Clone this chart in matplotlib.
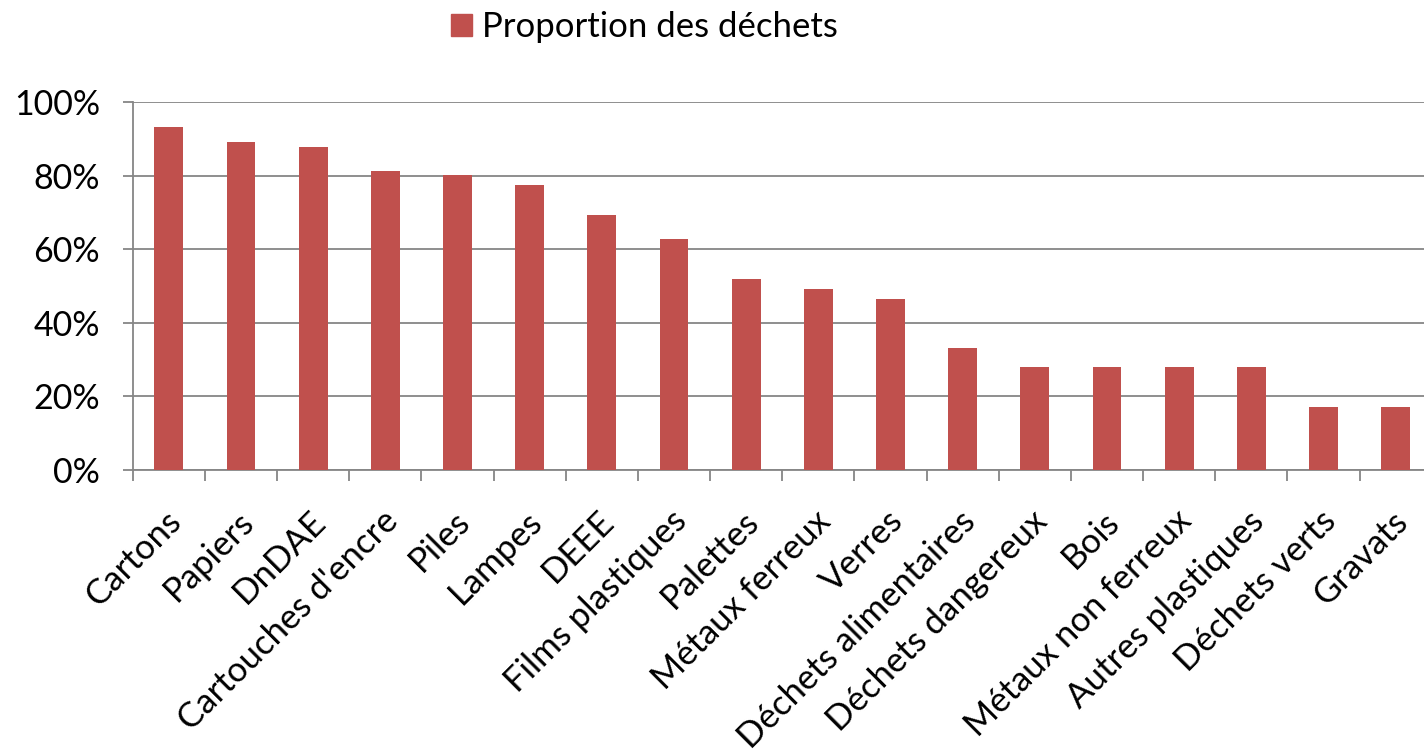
import matplotlib
matplotlib.use("Agg")
import matplotlib.pyplot as plt
import matplotlib.transforms as mtransforms
from matplotlib.ticker import FuncFormatter, FixedLocator, NullFormatter
from matplotlib.patches import Patch

categories = ["Cartons", "Papiers", "DnDAE", "Cartouches d'encre", "Piles", "Lampes",
              "DEEE", "Films plastiques", "Palettes", "Métaux ferreux", "Verres",
              "Déchets alimentaires", "Déchets dangereux", "Bois", "Métaux non ferreux",
              "Autres plastiques", "Déchets verts", "Gravats"]
values = [0.932, 0.892, 0.879, 0.812, 0.801, 0.774, 0.694, 0.627, 0.520, 0.493, 0.466,
          0.332, 0.279, 0.279, 0.279, 0.279, 0.172, 0.172]
series_name = "Proportion des déchets"
yticks = [0, 0.2, 0.4, 0.6, 0.8, 1.0]

bar_color = "#C0504D"
grid_color = "#868686"
W, H = 1424, 751

plt.rcParams['font.family'] = ['Lato', 'DejaVu Sans']

fig = plt.figure(figsize=(W / 100, H / 100), dpi=100)
left, right = 132.7, 1431.7
top_px, bot_px = 102.3, 470
ax = fig.add_axes([left / W, 1 - bot_px / H, (right - left) / W, (bot_px - top_px) / H])

x = list(range(len(categories)))
ax.bar(x, values, width=0.4, color=bar_color, zorder=3, label=series_name)
ax.set_xlim(-0.5, len(categories) - 0.5)
ax.set_ylim(0, 1)

ax.set_yticks(yticks)
ax.yaxis.set_major_formatter(FuncFormatter(lambda v, p: f"{v*100:.0f}%"))
ax.tick_params(axis='y', labelsize=24.5, length=7.5, width=1.3, color=grid_color, pad=16)
ax.grid(axis='y', color=grid_color, linewidth=1.3, zorder=0)

ax.xaxis.set_major_locator(FixedLocator([i - 0.5 for i in range(len(categories) + 1)]))
ax.xaxis.set_major_formatter(NullFormatter())
ax.xaxis.set_minor_locator(FixedLocator(x))
ax.set_xticklabels(categories, minor=True, rotation=45, ha='right',
                   rotation_mode='anchor', fontsize=25)
ax.tick_params(axis='x', which='major', length=8, width=1.3, color=grid_color)
ax.tick_params(axis='x', which='minor', length=0, pad=25)
offset = mtransforms.ScaledTranslation(-4 / 100, 0, fig.dpi_scale_trans)
for lbl in ax.get_xticklabels(minor=True):
    lbl.set_transform(lbl.get_transform() + offset)

for s in ['top', 'right']:
    ax.spines[s].set_visible(False)
for s in ['left', 'bottom']:
    ax.spines[s].set_color(grid_color)
    ax.spines[s].set_linewidth(1.3)

fig.legend(handles=[Patch(color=bar_color, label=series_name)], loc='upper left',
           bbox_to_anchor=(420 / W, 1 + 20 / H), frameon=False, fontsize=25,
           handlelength=0.6, handleheight=0.6, handletextpad=0.3, borderpad=0.4)

fig.savefig("out.png", dpi=100)
